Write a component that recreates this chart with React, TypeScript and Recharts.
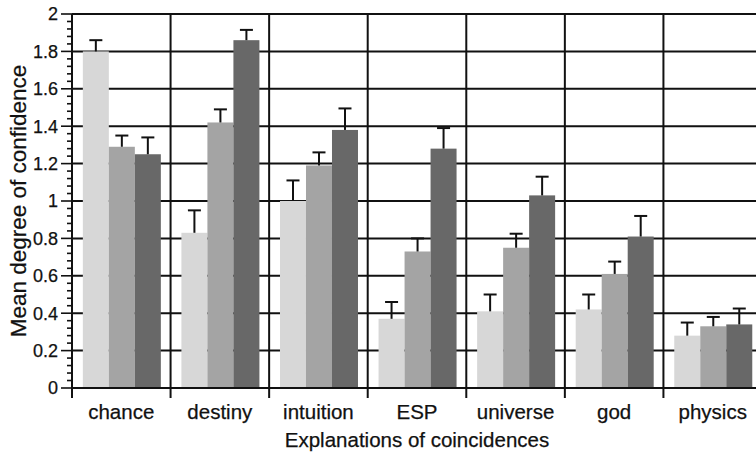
import React from "react"
import { BarChart, Bar, XAxis, YAxis, CartesianGrid, Label } from "recharts"

const categories = ["chance", "destiny", "intuition", "ESP", "universe", "god", "physics"]
const lightMeans = [1.8, 0.83, 1.0, 0.37, 0.41, 0.42, 0.28]
const lightErrors = [0.06, 0.12, 0.11, 0.09, 0.09, 0.08, 0.07]
const midMeans = [1.29, 1.42, 1.19, 0.73, 0.75, 0.61, 0.33]
const midErrors = [0.06, 0.07, 0.07, 0.07, 0.075, 0.066, 0.05]
const darkMeans = [1.25, 1.86, 1.38, 1.28, 1.03, 0.81, 0.34]
const darkErrors = [0.09, 0.055, 0.115, 0.11, 0.1, 0.11, 0.085]
const majorTicks = [0, 0.2, 0.4, 0.6, 0.8, 1, 1.2, 1.4, 1.6, 1.8, 2]

// minor ticks: 4 subdivisions inside every major step
const allTicks: number[] = []
majorTicks.forEach((t, i) => {
  allTicks.push(t)
  if (i < majorTicks.length - 1) {
    const step = (majorTicks[i + 1] - t) / 5
    for (let k = 1; k < 5; k++) allTicks.push(Math.round((t + step * k) * 1000) / 1000)
  }
})

const data = categories.map((name, i) => ({
  name,
  light: lightMeans[i],
  lightErr: lightErrors[i],
  mid: midMeans[i],
  midErr: midErrors[i],
  dark: darkMeans[i],
  darkErr: darkErrors[i],
}))

const INK = "#111"
const FONT = "'Liberation Sans', Arial, Helvetica, sans-serif"

// bar + upper-only error bar, error length scaled from the bar's own px/value ratio
const barWithError = (errKey: string) => (props: any) => {
  const { x, y, width, height, fill, payload, value } = props
  const v = Array.isArray(value) ? value[1] - value[0] : value
  const pxPerUnit = v ? height / v : 0
  const e = (payload?.[errKey] ?? 0) * pxPerUnit
  const cx = x + width / 2
  return (
    <g>
      <rect x={x} y={y} width={width} height={height} fill={fill} />
      <line x1={cx} y1={y} x2={cx} y2={y - e} stroke={INK} strokeWidth={2} />
      <line x1={cx - 6.5} y1={y - e} x2={cx + 6.5} y2={y - e} stroke={INK} strokeWidth={2} />
    </g>
  )
}

const YTick = (props: any) => {
  const { x, y, payload } = props
  const v = payload.value
  const major = majorTicks.some((t) => Math.abs(t - v) < 1e-6)
  return (
    <g>
      <line x1={x} y1={y} x2={x - (major ? 11 : 5)} y2={y} stroke={INK} strokeWidth={1.6} />
      {major && (
        <text x={x - 14} y={y} dy="0.36em" textAnchor="end" fontSize={18} fill={INK} fontFamily={FONT} stroke={INK} strokeWidth={0.25}>
          {String(Math.round(v * 10) / 10)}
        </text>
      )}
    </g>
  )
}

const XTick = (props: any) => {
  const { x, y, payload, index, width } = props
  const half = typeof payload.offset === "number" && payload.offset > 0 ? payload.offset : width / (2 * categories.length)
  return (
    <g>
      <line x1={x - half} y1={y} x2={x - half} y2={y + 10} stroke={INK} strokeWidth={2} />
      {index === categories.length - 1 && (
        <line x1={x + half} y1={y} x2={x + half} y2={y + 10} stroke={INK} strokeWidth={2} />
      )}
      <text x={x} y={y + 31} textAnchor="middle" fontSize={20.5} fill={INK} fontFamily={FONT} stroke={INK} strokeWidth={0.25}>
        {payload.value}
      </text>
    </g>
  )
}

export default function App() {
  return (
    <div style={{ position: "absolute", left: 0, top: 0, width: 756, height: 457, overflow: "hidden", background: "#fff", fontFamily: FONT }}>
      <BarChart
        width={762}
        height={457}
        data={data}
        margin={{ top: 14, right: 0, left: 0, bottom: 0 }}
        barGap={0}
        barCategoryGap="11%"
      >
        <CartesianGrid
          stroke={INK}
          strokeWidth={2}
          horizontalValues={majorTicks}
          verticalCoordinatesGenerator={({ offset }: any) =>
            Array.from({ length: categories.length + 1 }, (_, i) => offset.left + (i * offset.width) / categories.length)
          }
        />
        <XAxis
          dataKey="name"
          height={69}
          tickLine={false}
          tickSize={0}
          tickMargin={0}
          axisLine={{ stroke: INK, strokeWidth: 2 }}
          tick={<XTick />}
          interval={0}
        >
          <Label
            value="Explanations of coincidences"
            position="insideBottom"
            offset={10}
            style={{ fontSize: 20.5, fill: INK, fontFamily: FONT, stroke: INK, strokeWidth: 0.25 }}
          />
        </XAxis>
        <YAxis
          width={72}
          domain={[0, 2]}
          ticks={allTicks}
          interval={0}
          tickLine={false}
          tickSize={0}
          tickMargin={0}
          axisLine={{ stroke: INK, strokeWidth: 2 }}
          tick={<YTick />}
        >
          <Label
            value="Mean degree of confidence"
            angle={-90}
            position="insideLeft"
            offset={18}
            style={{ fontSize: 22.5, fill: INK, fontFamily: FONT, textAnchor: "middle", stroke: INK, strokeWidth: 0.25 }}
          />
        </YAxis>
        <Bar dataKey="light" fill="#d7d7d7" shape={barWithError("lightErr")} isAnimationActive={false} />
        <Bar dataKey="mid" fill="#a4a4a4" shape={barWithError("midErr")} isAnimationActive={false} />
        <Bar dataKey="dark" fill="#686868" shape={barWithError("darkErr")} isAnimationActive={false} />
      </BarChart>
    </div>
  )
}
